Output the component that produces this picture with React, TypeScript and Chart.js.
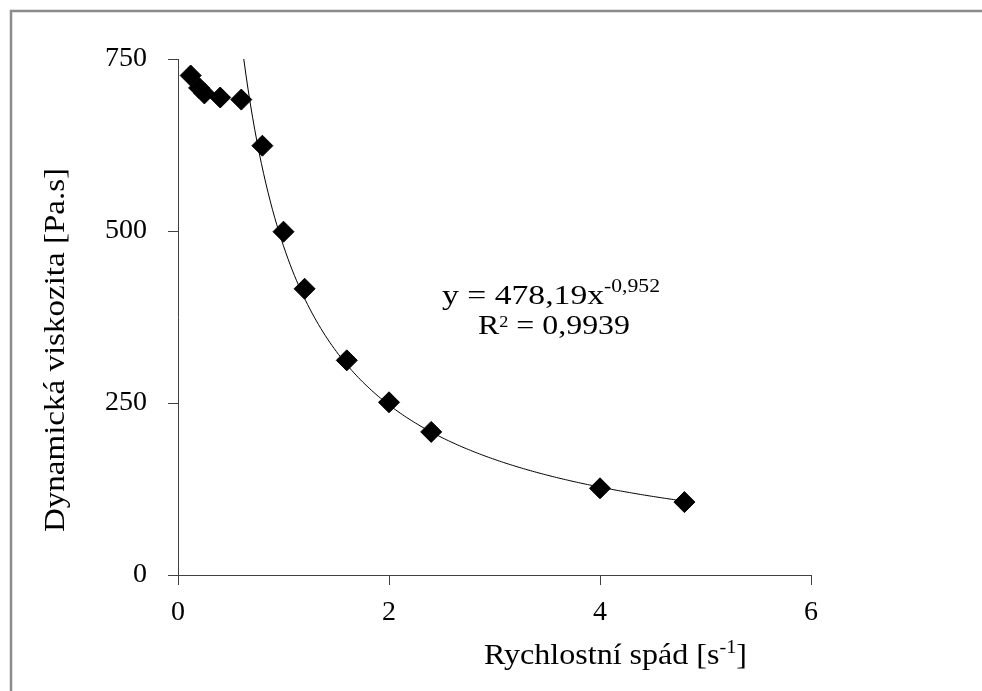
import React, { useEffect, useRef } from "react";
import { Chart, registerables } from "chart.js";

Chart.register(...registerables);

// Measured data: shear rate [1/s] vs dynamic viscosity [Pa.s]
const shearRate = [0.12, 0.2, 0.25, 0.4, 0.6, 0.8, 1.0, 1.2, 1.6, 2.0, 2.4, 4.0, 4.8];
const viscosity = [726, 708, 700, 694, 691, 624, 499, 416, 312, 251, 208, 126, 106];

// Power trendline shown on the chart: y = 478,19 x^-0,952
const TREND_A = 478.19;
const TREND_B = -0.952;
const TREND_X_END = 4.8;
const TREND_STEPS = 200;

const X_TICKS = [0, 2, 4, 6];
const Y_TICKS = [0, 250, 500, 750];

const X_TITLE = "Rychlostní spád [s";
const X_TITLE_SUP = "-1";
const X_TITLE_END = "]";
const Y_TITLE = "Dynamická viskozita [Pa.s]";
const EQ_MAIN = "y = 478,19x";
const EQ_SUP = "-0,952";
const R2_MAIN_A = "R";
const R2_SUP = "2";
const R2_MAIN_B = " = 0,9939";

const FONT = '"Liberation Serif", "Times New Roman", serif';
const AXIS_COLOR = "#404040";

type Part = { text: string; size: number; dy: number };

function drawParts(
  ctx: CanvasRenderingContext2D,
  parts: Part[],
  x: number,
  baseline: number,
  targetWidth: number
) {
  const widths = parts.map((p) => {
    ctx.font = `${p.size}px ${FONT}`;
    return ctx.measureText(p.text).width;
  });
  const total = widths.reduce((a, b) => a + b, 0);
  const s = targetWidth / total;
  ctx.save();
  ctx.translate(x, baseline);
  ctx.scale(s, 1);
  let cx = 0;
  parts.forEach((p, i) => {
    ctx.font = `${p.size}px ${FONT}`;
    ctx.fillText(p.text, cx, p.dy);
    cx += widths[i];
  });
  ctx.restore();
}

export default function App() {
  const ref = useRef<HTMLCanvasElement | null>(null);

  useEffect(() => {
    document.body.style.margin = "0";
    const canvas = ref.current;
    if (!canvas) return;

    const yMax = Y_TICKS[Y_TICKS.length - 1];
    const xStart = Math.pow(yMax / TREND_A, 1 / TREND_B);
    const trend: { x: number; y: number }[] = [];
    for (let i = 0; i <= TREND_STEPS; i++) {
      const x = xStart + ((TREND_X_END - xStart) * i) / TREND_STEPS;
      trend.push({ x, y: TREND_A * Math.pow(x, TREND_B) });
    }

    const textPlugin = {
      id: "texts",
      beforeDraw(chart: any) {
        const ctx = chart.ctx;
        ctx.save();
        ctx.fillStyle = "#ffffff";
        ctx.fillRect(0, 0, chart.width, chart.height);
        ctx.strokeStyle = "#8c8c8c";
        ctx.lineWidth = 2.5;
        ctx.beginPath();
        ctx.moveTo(11, chart.height);
        ctx.lineTo(11, 11);
        ctx.lineTo(chart.width, 11);
        ctx.stroke();
        ctx.restore();
      },
      afterDraw(chart: any) {
        const ctx: CanvasRenderingContext2D = chart.ctx;
        ctx.save();
        ctx.fillStyle = "#000000";
        ctx.textBaseline = "alphabetic";
        ctx.textAlign = "left";

        // x title
        drawParts(
          ctx,
          [
            { text: X_TITLE, size: 30, dy: 0 },
            { text: X_TITLE_SUP, size: 19, dy: -11 },
            { text: X_TITLE_END, size: 30, dy: 0 },
          ],
          484,
          664,
          263
        );

        // y title
        ctx.save();
        ctx.translate(64, 350);
        ctx.rotate(-Math.PI / 2);
        drawParts(ctx, [{ text: Y_TITLE, size: 30, dy: 0 }], -182, 0, 364);
        ctx.restore();

        // equation
        drawParts(
          ctx,
          [
            { text: EQ_MAIN, size: 28, dy: 0 },
            { text: EQ_SUP, size: 18, dy: -12 },
          ],
          442,
          304,
          218
        );
        drawParts(
          ctx,
          [
            { text: R2_MAIN_A, size: 28, dy: 0 },
            { text: R2_SUP, size: 16, dy: -7 },
            { text: R2_MAIN_B, size: 28, dy: 0 },
          ],
          478,
          334,
          152
        );
        ctx.restore();
      },
    };

    const chart = new Chart(canvas, {
      type: "scatter",
      data: {
        datasets: [
          {
            label: "data",
            data: shearRate.map((x, i) => ({ x, y: viscosity[i] })),
            pointStyle: "rectRot",
            pointRadius: 10.5,
            pointHoverRadius: 10.5,
            backgroundColor: "#000000",
            borderColor: "#000000",
            borderWidth: 1,
            order: 0,
          },
          {
            label: "trend",
            data: trend,
            showLine: true,
            pointRadius: 0,
            borderColor: "#000000",
            borderWidth: 1,
            tension: 0,
            order: 1,
          } as any,
        ],
      },
      options: {
        responsive: false,
        animation: false,
        devicePixelRatio: 1,
        layout: { padding: { top: 59, right: 171, left: 0, bottom: 0 } },
        plugins: {
          legend: { display: false },
          tooltip: { enabled: false },
        },
        scales: {
          x: {
            type: "linear",
            min: 0,
            max: 6,
            afterBuildTicks: (s: any) => {
              s.ticks = X_TICKS.map((v) => ({ value: v }));
            },
            afterFit: (s: any) => {
              s.height = 116;
            },
            border: { display: true, color: AXIS_COLOR, width: 1 },
            grid: {
              display: true,
              drawOnChartArea: false,
              drawTicks: true,
              tickLength: 10,
              color: AXIS_COLOR,
            },
            ticks: {
              color: "#000000",
              font: { family: FONT, size: 28 },
              padding: 11,
              maxRotation: 0,
            },
          },
          y: {
            type: "linear",
            min: 0,
            max: 750,
            afterBuildTicks: (s: any) => {
              s.ticks = Y_TICKS.map((v) => ({ value: v }));
            },
            afterFit: (s: any) => {
              s.width = 178;
            },
            border: { display: true, color: AXIS_COLOR, width: 1 },
            grid: {
              display: true,
              drawOnChartArea: false,
              drawTicks: true,
              tickLength: 10,
              color: AXIS_COLOR,
            },
            ticks: {
              color: "#000000",
              font: { family: FONT, size: 28 },
              padding: 21,
            },
          },
        },
      },
      plugins: [textPlugin],
    });

    return () => chart.destroy();
  }, []);

  return (
    <div style={{ width: 982, height: 691 }}>
      <canvas ref={ref} width={982} height={691} style={{ display: "block" }} />
    </div>
  );
}
